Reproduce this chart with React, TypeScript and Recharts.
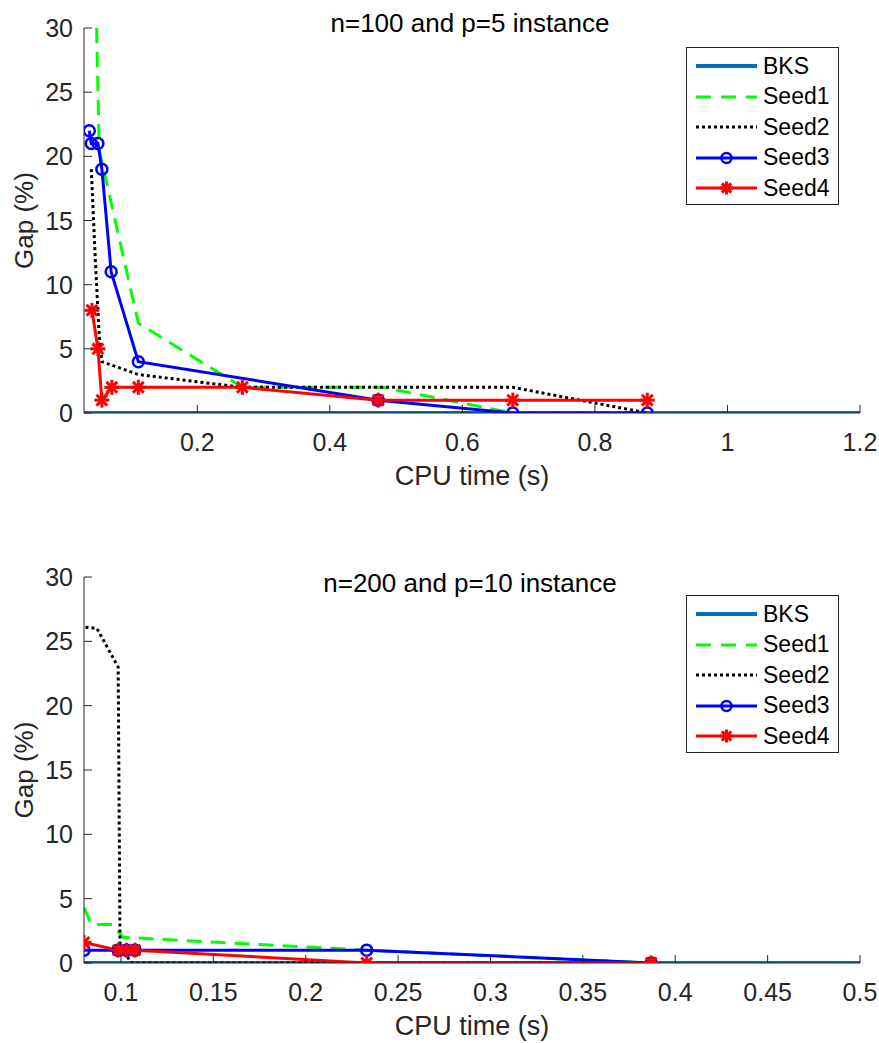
import { Legend, Line, LineChart, XAxis, YAxis } from "recharts";

const FONT = "'Liberation Sans', Arial, Helvetica, sans-serif";
const AXIS = "#262626";

// n=100 and p=5 instance
const topBksTime = [0.029, 1.2];
const topBksGap = [0, 0];
const topSeed1Time = [0.048, 0.052, 0.111, 0.268, 0.48, 0.676, 0.879];
const topSeed1Gap = [30, 20.5, 7, 2, 2, 0, 0];
const topSeed2Time = [0.04, 0.046, 0.052, 0.056, 0.111, 0.268, 0.676, 0.879];
const topSeed2Gap = [19, 12, 6, 4, 3, 2, 2, 0];
const topSeed3Time = [0.037, 0.04, 0.05, 0.056, 0.07, 0.111, 0.473, 0.676, 0.879];
const topSeed3Gap = [22, 21, 21, 19, 11, 4, 1, 0, 0];
const topSeed4Time = [0.041, 0.05, 0.056, 0.071, 0.111, 0.268, 0.473, 0.676, 0.879];
const topSeed4Gap = [8, 5, 1, 2, 2, 2, 1, 1, 1];
const topTimeTicks = [0.2, 0.4, 0.6, 0.8, 1, 1.2];

// n=200 and p=10 instance
const botBksTime = [0.08, 0.5];
const botBksGap = [0, 0];
const botSeed1Time = [0.08, 0.084, 0.0957, 0.101, 0.233, 0.387];
const botSeed1Gap = [4.3, 3, 3, 2, 1, 0];
const botSeed2Time = [0.0808, 0.087, 0.0985, 0.0995, 0.106, 0.233, 0.387];
const botSeed2Gap = [26.1, 26, 23, 1.2, 0, 0, 0];
const botSeed3Time = [0.08, 0.0985, 0.103, 0.1076, 0.233, 0.387];
const botSeed3Gap = [1, 1, 1, 1, 1, 0];
const botSeed4Time = [0.08, 0.0985, 0.103, 0.1076, 0.233, 0.387];
const botSeed4Gap = [1.6, 1, 1, 1, 0, 0];
const botTimeTicks = [0.1, 0.15, 0.2, 0.25, 0.3, 0.35, 0.4, 0.45, 0.5];

const gapTicks = [0, 5, 10, 15, 20, 25, 30];

const pts = (t: number[], g: number[]) => t.map((x, i) => ({ t: x, gap: g[i] }));

const series = [
  { name: "BKS", color: "#0072BD", width: 4, dash: undefined as string | undefined, marker: "none" },
  { name: "Seed1", color: "#00FF00", width: 3, dash: "15 9", marker: "none" },
  { name: "Seed2", color: "#000000", width: 3, dash: "3 3", marker: "none" },
  { name: "Seed3", color: "#0000FF", width: 3, dash: undefined, marker: "circle" },
  { name: "Seed4", color: "#FF0000", width: 3, dash: undefined, marker: "star" },
];

function StarDot(props: any) {
  const { cx, cy, index, size } = props;
  if (cx == null || cy == null) return null;
  const s = size ?? 7.5;
  const d = s * 0.72;
  return (
    <g key={`star-${index}`} stroke="#FF0000" strokeWidth={3}>
      <line x1={cx - s} y1={cy} x2={cx + s} y2={cy} />
      <line x1={cx} y1={cy - s} x2={cx} y2={cy + s} />
      <line x1={cx - d} y1={cy - d} x2={cx + d} y2={cy + d} />
      <line x1={cx - d} y1={cy + d} x2={cx + d} y2={cy - d} />
    </g>
  );
}

function YTick(props: any) {
  const { x, y, payload } = props;
  const ax = x + 11;
  return (
    <g>
      <line x1={ax} x2={ax + 8} y1={y} y2={y} stroke={AXIS} strokeWidth={1} />
      <text x={x} y={y} dy={9} textAnchor="end" fill={AXIS} fontSize={25} fontFamily={FONT}>
        {payload.value}
      </text>
    </g>
  );
}

function XTick(props: any) {
  const { x, y, payload } = props;
  const ay = y - 20;
  return (
    <g>
      <line x1={x} x2={x} y1={ay} y2={ay - 8} stroke={AXIS} strokeWidth={1} />
      <text x={x} y={y} dy={18} textAnchor="middle" fill={AXIS} fontSize={25} fontFamily={FONT}>
        {payload.value}
      </text>
    </g>
  );
}

function GapLabel(props: any) {
  const { viewBox, title, titleY, centerX } = props;
  const cy = viewBox.y + viewBox.height / 2;
  return (
    <g>
      <text
        x={33}
        y={cy}
        transform={`rotate(-90, 33, ${cy})`}
        textAnchor="middle"
        fill={AXIS}
        fontSize={26}
        fontFamily={FONT}
      >
        Gap (%)
      </text>
      <text x={centerX} y={titleY} textAnchor="middle" fill="#000" fontSize={26} fontFamily={FONT}>
        {title}
      </text>
    </g>
  );
}

function TimeLabel(props: any) {
  const { viewBox } = props;
  return (
    <text
      x={viewBox.x + viewBox.width / 2}
      y={viewBox.y + 72}
      textAnchor="middle"
      fill={AXIS}
      fontSize={27}
      fontFamily={FONT}
    >
      CPU time (s)
    </text>
  );
}

function LegendBox() {
  return (
    <div
      style={{
        width: 153,
        height: 158,
        border: `1.5px solid ${AXIS}`,
        background: "#fff",
        boxSizing: "border-box",
        paddingTop: 3,
        fontFamily: FONT,
        fontSize: 23,
        color: "#000",
      }}
    >
      {series.map((s) => (
        <div key={s.name} style={{ display: "flex", alignItems: "center", height: 30.5 }}>
          <svg width={76} height={24} style={{ display: "block" }}>
            <line
              x1={9}
              x2={70}
              y1={12}
              y2={12}
              stroke={s.color}
              strokeWidth={s.width}
              strokeDasharray={s.dash === "15 9" ? "15 10" : s.dash}
            />
            {s.marker === "circle" && (
              <circle cx={39.5} cy={12} r={5} fill="none" stroke={s.color} strokeWidth={2.5} />
            )}
            {s.marker === "star" && <StarDot cx={39.5} cy={12} index={0} size={6.5} />}
          </svg>
          <span style={{ lineHeight: 1 }}>{s.name}</span>
        </div>
      ))}
    </div>
  );
}

type PanelProps = {
  height: number;
  top: number;
  xAxisHeight: number;
  domain: [number, number];
  ticks: number[];
  data: { t: number; gap: number }[][];
  title: string;
  titleY: number;
  legendTop: number;
};

function Panel({ height, top, xAxisHeight, domain, ticks, data, title, titleY, legendTop }: PanelProps) {
  return (
    <LineChart width={879} height={height} margin={{ top, right: 19, bottom: 0, left: 0 }}>
      <XAxis
        type="number"
        dataKey="t"
        domain={domain}
        ticks={ticks}
        allowDataOverflow
        height={xAxisHeight}
        tickSize={0}
        tickMargin={20}
        tickLine={false}
        axisLine={{ stroke: AXIS }}
        tick={<XTick />}
        label={<TimeLabel />}
      />
      <YAxis
        type="number"
        domain={[0, 30]}
        ticks={gapTicks}
        allowDataOverflow
        width={84}
        tickSize={0}
        tickMargin={11}
        tickLine={false}
        axisLine={{ stroke: AXIS }}
        tick={<YTick />}
        label={<GapLabel title={title} titleY={titleY} centerX={470} />}
      />
      <Legend
        layout="horizontal"
        align="center"
        verticalAlign="middle"
        content={() => <LegendBox />}
        wrapperStyle={{ left: 686, top: legendTop, width: 153, height: 158 }}
      />
      {series.map((s, i) => (
        <Line
          key={s.name}
          name={s.name}
          data={data[i]}
          dataKey="gap"
          type="linear"
          stroke={s.color}
          strokeWidth={s.width}
          strokeDasharray={s.dash}
          dot={
            s.marker === "circle"
              ? { r: 5.5, fill: "none", stroke: s.color, strokeWidth: 2.5 }
              : s.marker === "star"
                ? (p: any) => <StarDot key={`sd-${p.index}`} {...p} />
                : false
          }
          activeDot={false}
          isAnimationActive={false}
        />
      ))}
    </LineChart>
  );
}

export default function App() {
  const topData = [
    pts(topBksTime, topBksGap),
    pts(topSeed1Time, topSeed1Gap),
    pts(topSeed2Time, topSeed2Gap),
    pts(topSeed3Time, topSeed3Gap),
    pts(topSeed4Time, topSeed4Gap),
  ];
  const botData = [
    pts(botBksTime, botBksGap),
    pts(botSeed1Time, botSeed1Gap),
    pts(botSeed2Time, botSeed2Gap),
    pts(botSeed3Time, botSeed3Gap),
    pts(botSeed4Time, botSeed4Gap),
  ];
  return (
    <div style={{ position: "absolute", left: 0, top: 0, width: 879, height: 1043, background: "#fff" }}>
      <Panel
        height={520}
        top={28}
        xAxisHeight={107}
        domain={[0.029, 1.2]}
        ticks={topTimeTicks}
        data={topData}
        title="n=100 and p=5 instance"
        titleY={32}
        legendTop={47}
      />
      <Panel
        height={523}
        top={57}
        xAxisHeight={80}
        domain={[0.08, 0.5]}
        ticks={botTimeTicks}
        data={botData}
        title="n=200 and p=10 instance"
        titleY={72}
        legendTop={75}
      />
    </div>
  );
}
